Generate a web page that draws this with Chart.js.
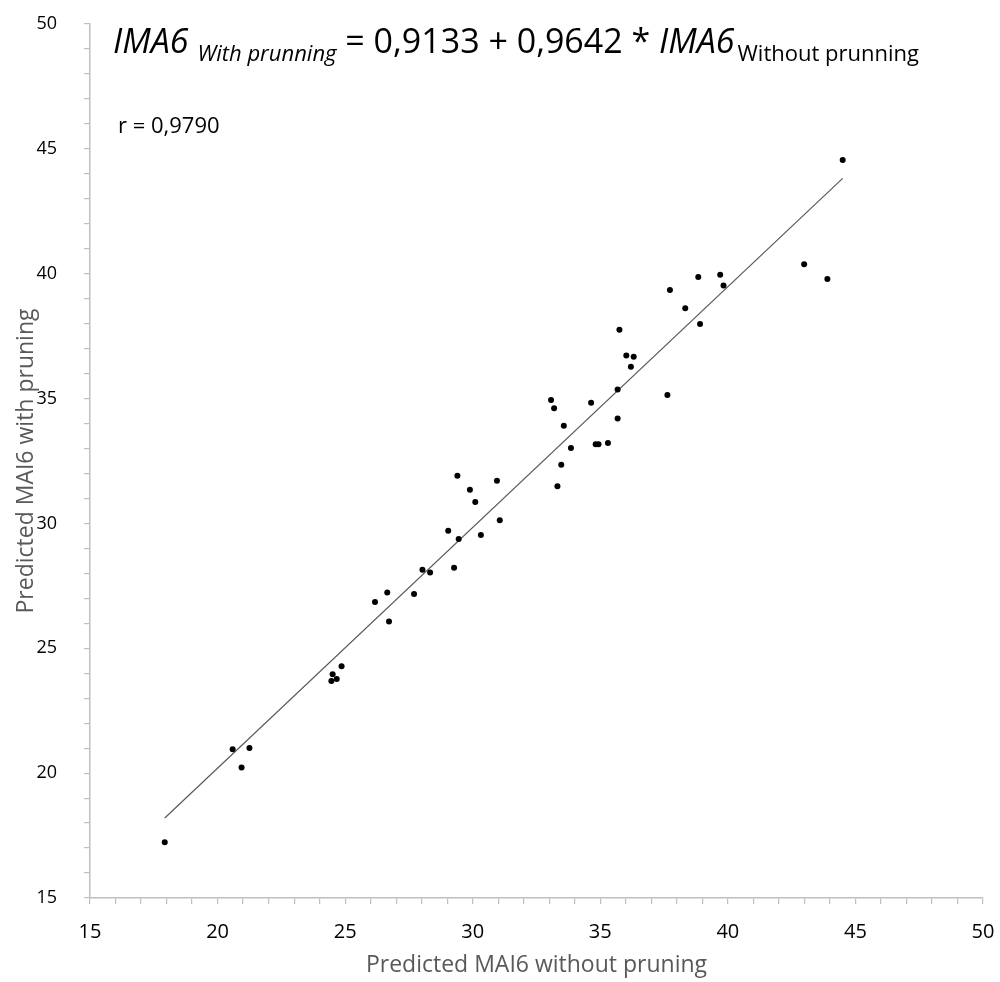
<!DOCTYPE html>
<html>
<head>
<meta charset="utf-8">
<script src="https://cdn.jsdelivr.net/npm/chart.js@4"></script>
<style>
  html, body { margin: 0; padding: 0; background: #fff; }
  #wrap { width: 1000px; height: 982px; }
</style>
</head>
<body>
<div id="wrap"><canvas id="grafico" width="1000" height="982"></canvas></div>
<script>
// predicted MAI6 without pruning (x) / with pruning (y)
const xValues = [17.93, 20.59, 20.94, 21.25, 24.51, 24.46, 24.67, 24.86, 26.17, 26.65, 26.72,
  27.70, 28.03, 28.33, 29.04, 29.27, 29.45, 29.40, 29.89, 30.10, 30.32, 30.95, 31.06,
  33.07, 33.19, 33.32, 33.47, 33.57, 33.85, 34.64, 34.82, 34.93, 35.30, 35.68, 35.68,
  35.75, 36.02, 36.31, 36.20, 37.63, 37.73, 38.33, 38.91, 38.84, 39.70, 39.83,
  42.99, 43.90, 44.50];
const yValues = [17.23, 20.96, 20.23, 21.01, 23.96, 23.69, 23.77, 24.28, 26.85, 27.23, 26.07,
  27.17, 28.15, 28.03, 29.71, 28.23, 29.38, 31.91, 31.35, 30.86, 29.54, 31.71, 30.13,
  34.94, 34.61, 31.49, 32.35, 33.91, 33.02, 34.83, 33.17, 33.17, 33.22, 35.36, 34.20,
  37.76, 36.72, 36.67, 36.27, 35.14, 39.35, 38.62, 37.99, 39.87, 39.96, 39.53,
  40.38, 39.79, 44.55];

const intercepto = 0.9133;
const pendiente = 0.9642;
const coefR = "0,9790";

const axisMin = 15;
const axisMax = 50;

const puntos = xValues.map((x, i) => ({ x: x, y: yValues[i] }));
const xMin = Math.min(...xValues);
const xMax = Math.max(...xValues);
const recta = [
  { x: xMin, y: intercepto + pendiente * xMin },
  { x: xMax, y: intercepto + pendiente * xMax }
];

const mainFont = "'Open Sans', sans-serif";

// equation and r drawn on top of the chart
const ecuacionPlugin = {
  id: 'ecuacion',
  afterDraw(chart) {
    const ctx = chart.ctx;
    ctx.save();
    ctx.fillStyle = '#000';
    ctx.textBaseline = 'alphabetic';
    ctx.textAlign = 'left';
    const partes = [
      { t: 'IMA6', f: 'italic 34px ' + mainFont, dy: 0, gap: 9 },
      { t: 'With prunning', f: 'italic 22px ' + mainFont, dy: 8, gap: 0 },
      { t: ' = 0,9133 + 0,9642 * ', f: '34px ' + mainFont, dy: 0, gap: 0 },
      { t: 'IMA6', f: 'italic 34px ' + mainFont, dy: 0, gap: 3 },
      { t: 'Without prunning', f: '22px ' + mainFont, dy: 8, gap: 0 }
    ];
    let x = 113;
    const base = 53;
    partes.forEach(p => {
      ctx.font = p.f;
      ctx.fillText(p.t, x, base + p.dy);
      x += ctx.measureText(p.t).width + p.gap;
    });
    ctx.font = '22px ' + mainFont;
    ctx.fillText('r = ' + coefR, 118, 133);
    ctx.restore();
  }
};

const ctx = document.getElementById('grafico').getContext('2d');

const ejeComun = {
  type: 'linear',
  min: axisMin,
  max: axisMax,
  border: { color: '#bfbfbf', width: 1.5 },
  grid: {
    drawOnChartArea: false,
    drawTicks: true,
    tickLength: 6,
    color: '#bfbfbf',
    lineWidth: 1.2
  }
};

new Chart(ctx, {
  type: 'scatter',
  data: {
    datasets: [
      {
        label: 'Datos',
        data: puntos,
        backgroundColor: '#000',
        borderColor: '#000',
        pointRadius: 3,
        borderWidth: 0
      },
      {
        label: 'Regresion',
        type: 'line',
        data: recta,
        borderColor: '#595959',
        borderWidth: 1.2,
        pointRadius: 0,
        fill: false
      }
    ]
  },
  options: {
    responsive: false,
    animation: false,
    layout: { padding: { top: 24, right: 17, left: 0, bottom: 0 } },
    plugins: {
      legend: { display: false },
      tooltip: { enabled: false }
    },
    scales: {
      x: Object.assign({}, ejeComun, {
        position: 'bottom',
        afterFit(scale) {
          scale.height = 84;
          scale.paddingLeft = 0;
          scale.paddingRight = 0;
        },
        ticks: {
          stepSize: 1,
          autoSkip: false,
          maxRotation: 0,
          padding: 16,
          color: '#000',
          font: { family: mainFont, size: 20 },
          callback: v => (v % 5 === 0 ? v : '')
        },
        title: {
          display: true,
          text: 'Predicted MAI6 without pruning',
          color: '#595959',
          font: { family: mainFont, size: 23 },
          padding: { top: 3, bottom: 3 }
        }
      }),
      y: Object.assign({}, ejeComun, {
        position: 'left',
        afterFit(scale) {
          scale.width = 90;
          scale.paddingTop = 0;
          scale.paddingBottom = 0;
        },
        ticks: {
          stepSize: 1,
          autoSkip: false,
          padding: 27,
          color: '#000',
          font: { family: mainFont, size: 18 },
          callback: v => (v % 5 === 0 ? v : '')
        },
        title: {
          display: true,
          text: 'Predicted MAI6 with pruning',
          color: '#595959',
          font: { family: mainFont, size: 23 },
          padding: { top: 13, bottom: 13 }
        }
      })
    }
  },
  plugins: [ecuacionPlugin]
});
</script>
</body>
</html>
